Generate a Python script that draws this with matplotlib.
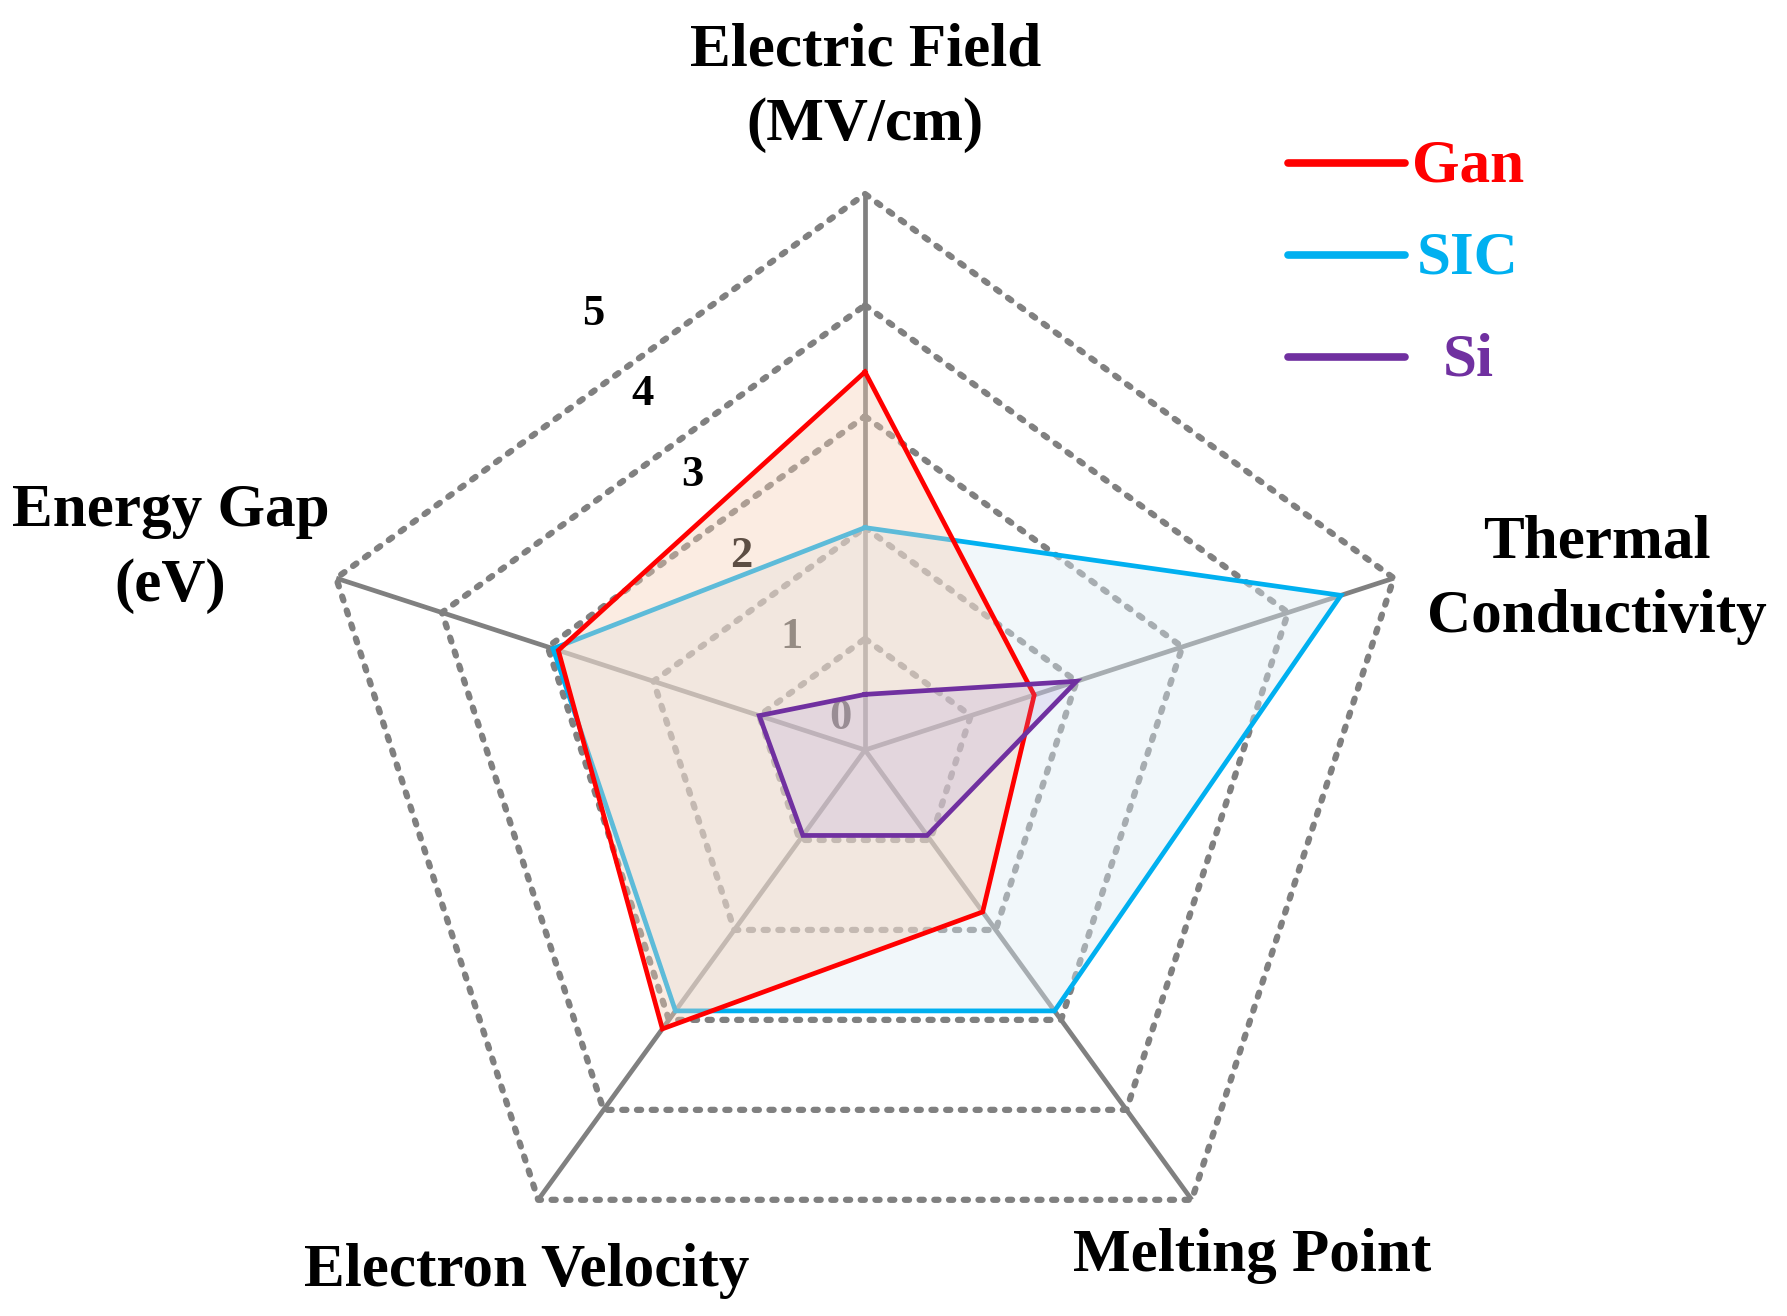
import numpy as np
import matplotlib
matplotlib.use("Agg")
import matplotlib.pyplot as plt

# ---------------- data ----------------
categories = ["Electric Field\n(MV/cm)", "Thermal\nConductivity", "Melting Point",
              "Electron Velocity", "Energy Gap\n(eV)"]
series_names = ["SIC", "Gan", "Si"]          # drawing order (bottom -> top)
gan = [3.4, 1.6, 1.8, 3.1, 2.9]
sic = [2.0, 4.5, 2.9, 2.9, 2.95]
si = [0.5, 2.0, 0.95, 0.95, 1.0]
tick_values = [0, 1, 2, 3, 4, 5]
legend_order = ["Gan", "SIC", "Si"]

values = {"Gan": gan, "SIC": sic, "Si": si}
line_colors = {"Gan": "#FF0000", "SIC": "#00B0F0", "Si": "#7030A0"}
fill_colors = {"Gan": ("#F5CFB5", 0.38), "SIC": ("#DEEDF5", 0.42), "Si": ("#AA96D7", 0.2)}

plt.rcParams["lines.scale_dashes"] = False
FONT = "Liberation Serif"

# ---------------- layout ----------------
W, H = 1787, 1316
CX, CY = 865, 750          # pixel centre of the radar
U = 111.2                  # pixels per value unit

fig = plt.figure(figsize=(W / 100, H / 100), dpi=100)
ax = fig.add_axes([0, 0, 1, 1])
ax.set_xlim(-CX / U, (W - CX) / U)
ax.set_ylim((CY - H) / U, CY / U)
ax.axis("off")


def px(x, y):
    return (x - CX) / U, (CY - y) / U


n = len(categories)
theta = np.deg2rad(90 - 72 * np.arange(n))
rmax = max(tick_values)

# grid rings (dotted)
for t in tick_values[1:]:
    xs = np.append(t * np.cos(theta), t * np.cos(theta[0]))
    ys = np.append(t * np.sin(theta), t * np.sin(theta[0]))
    ax.plot(xs, ys, color="#808080", lw=4.5, linestyle=(0, (3.0, 7.6)),
            dash_capstyle="round", zorder=1)

# spokes
for th in theta:
    ax.plot([0, rmax * np.cos(th)], [0, rmax * np.sin(th)], color="#808080",
            lw=3.4, solid_capstyle="butt", zorder=1.1)

# tick labels (drawn beneath the fills)
for v in tick_values:
    tx, ty = -0.22 - 0.445 * v, 0.29 + 0.727 * v
    ax.text(tx, ty, str(v), fontsize=32, fontweight="bold", family=FONT,
            color="black", ha="center", va="center", zorder=1.5)

# series
for k, name in enumerate(series_names):
    r = np.array(values[name])
    xs = np.append(r * np.cos(theta), r[0] * np.cos(theta[0]))
    ys = np.append(r * np.sin(theta), r[0] * np.sin(theta[0]))
    fc, fa = fill_colors[name]
    ax.fill(xs, ys, color=fc, alpha=fa, lw=0, zorder=2 + k)
    ax.plot(xs, ys, color=line_colors[name], lw=3.4, solid_joinstyle="miter",
            zorder=2.5 + k)

# category labels (pixel baseline positions, one per line)
label_pos = [
    [(866, 65), (864.5, 140)],
    [(1597, 558), (1597, 632)],
    [(1252, 1271)],
    [(527, 1286)],
    [(171, 526), (170, 601)],
]
for cat, poss in zip(categories, label_pos):
    for line, (lx, ly) in zip(cat.split("\n"), poss):
        x, y = px(lx, ly)
        ax.text(x, y, line, fontsize=44, fontweight="bold", family=FONT,
                color="black", ha="center", va="baseline", zorder=10)

# legend
leg_y = [163, 255, 357]
for name, yy in zip(legend_order, leg_y):
    x0, y0 = px(1288, yy)
    x1, _ = px(1405, yy)
    ax.plot([x0, x1], [y0, y0], color=line_colors[name], lw=5.5,
            solid_capstyle="round", zorder=10)
    tx, ty = px(1468, yy + 19)
    ax.text(tx, ty, name, fontsize=44, fontweight="bold", family=FONT,
            color=line_colors[name], ha="center", va="baseline", zorder=10)

fig.savefig("out.png", dpi=100)
